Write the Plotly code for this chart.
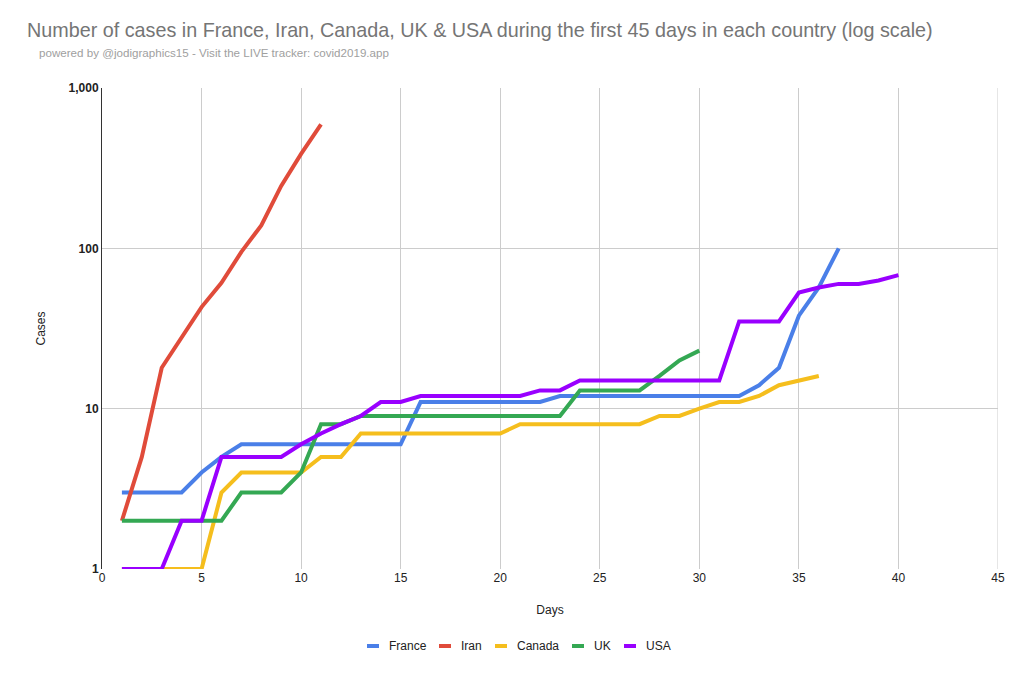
import plotly.graph_objects as go

# Days since first case in each country
france_days = list(range(1, 38))
france_cases = [3, 3, 3, 3, 4, 5, 6, 6, 6, 6, 6, 6, 6, 6, 6, 11, 11, 11, 11, 11, 11, 11,
                12, 12, 12, 12, 12, 12, 12, 12, 12, 12, 14, 18, 38, 57, 100]

iran_days = list(range(1, 12))
iran_cases = [2, 5, 18, 28, 43, 61, 95, 139, 245, 388, 593]

canada_days = list(range(1, 37))
canada_cases = [1, 1, 1, 1, 1, 3, 4, 4, 4, 4, 5, 5, 7, 7, 7, 7, 7, 7, 7, 7,
                8, 8, 8, 8, 8, 8, 8, 9, 9, 10, 11, 11, 12, 14, 15, 16]

uk_days = list(range(1, 31))
uk_cases = [2, 2, 2, 2, 2, 2, 3, 3, 3, 4, 8, 8, 9, 9, 9, 9, 9, 9, 9, 9,
            9, 9, 9, 13, 13, 13, 13, 16, 20, 23]

usa_days = list(range(1, 41))
usa_cases = [1, 1, 1, 2, 2, 5, 5, 5, 5, 6, 7, 8, 9, 11, 11, 12, 12, 12, 12, 12,
             12, 13, 13, 15, 15, 15, 15, 15, 15, 15, 15, 35, 35, 35, 53, 57, 60, 60, 63, 68]

series = [
    ("France", france_days, france_cases, "#4a7fe8"),
    ("Iran", iran_days, iran_cases, "#e04b3a"),
    ("Canada", canada_days, canada_cases, "#f5be1d"),
    ("UK", uk_days, uk_cases, "#34a853"),
    ("USA", usa_days, usa_cases, "#9900ff"),
]

font = "Arial, Liberation Sans, sans-serif"

# plot area in figure pixels (page adds an 8px body margin)
L, R, T, B = 94, 34, 80, 117
W, H = 1024, 678
pw, ph = W - L - R, H - T - B


def px_x(x):
    return (x - L) / pw


def px_y(y):
    return 1 - (y - T) / ph


fig = go.Figure()
for name, x, y, color in series:
    fig.add_trace(go.Scatter(x=x, y=y, name=name, mode="lines",
                             line=dict(color=color, width=4), showlegend=False))

fig.update_layout(
    width=W, height=H,
    paper_bgcolor="white", plot_bgcolor="white",
    margin=dict(l=L, r=R, t=T, b=B),
    font=dict(family=font, size=12, color="#222"),
    title=dict(
        text="Number of cases in France, Iran, Canada, UK & USA during the first 45 days in each country (log scale)",
        x=19 / W, xanchor="left", y=1 - 22 / H, yanchor="middle",
        font=dict(family=font, size=19.75, color="#757575"),
    ),
    showlegend=False,
)

fig.add_annotation(
    text="powered by @jodigraphics15 - Visit the LIVE tracker: covid2019.app",
    xref="paper", yref="paper", x=px_x(29), y=px_y(45), xanchor="left", yanchor="middle",
    showarrow=False, font=dict(family=font, size=11.6, color="#a0a0a0"),
)

fig.update_xaxes(
    range=[0, 45], dtick=5, tick0=0,
    showgrid=True, gridcolor="#cccccc", gridwidth=1,
    zeroline=False, showline=False, ticks="",
    title=dict(text="Days", font=dict(size=12, color="#222"), standoff=21),
    tickfont=dict(size=12, color="#222"),
)
fig.update_yaxes(
    type="log", range=[0, 3],
    tickvals=[1, 10, 100, 1000], ticktext=["<b>1</b>", "<b>10</b>", "<b>100</b>", "<b>1,000</b>"],
    showgrid=True, gridcolor="#cccccc", gridwidth=1,
    showline=True, linecolor="#333333", linewidth=1,
    zeroline=False, ticks="",
    title=dict(text="Cases", font=dict(size=12, color="#222"), standoff=20),
    tickfont=dict(size=12, color="#222"),
)

# gridline at 45 and right frame line
fig.add_shape(type="line", xref="x", yref="paper", x0=45, x1=45, y0=0, y1=1,
              line=dict(color="#cccccc", width=1), layer="below")
fig.add_shape(type="line", xref="paper", yref="paper", x0=px_x(1010), x1=px_x(1010),
              y0=px_y(H - 1), y1=px_y(1), line=dict(color="#888888", width=1.5))

# legend drawn like the Google Charts one: short swatch + label
legend_x = [359, 431, 487, 564, 616]
legend_y = px_y(638)
for (name, _, _, color), lx in zip(series, legend_x):
    fig.add_shape(type="line", xref="paper", yref="paper",
                  x0=px_x(lx), x1=px_x(lx + 12), y0=legend_y, y1=legend_y,
                  line=dict(color=color, width=4))
    fig.add_annotation(text=name, xref="paper", yref="paper", x=px_x(lx + 20), y=legend_y,
                       xanchor="left", yanchor="middle", showarrow=False,
                       font=dict(family=font, size=12, color="#222"))

fig.write_html("out.html")
